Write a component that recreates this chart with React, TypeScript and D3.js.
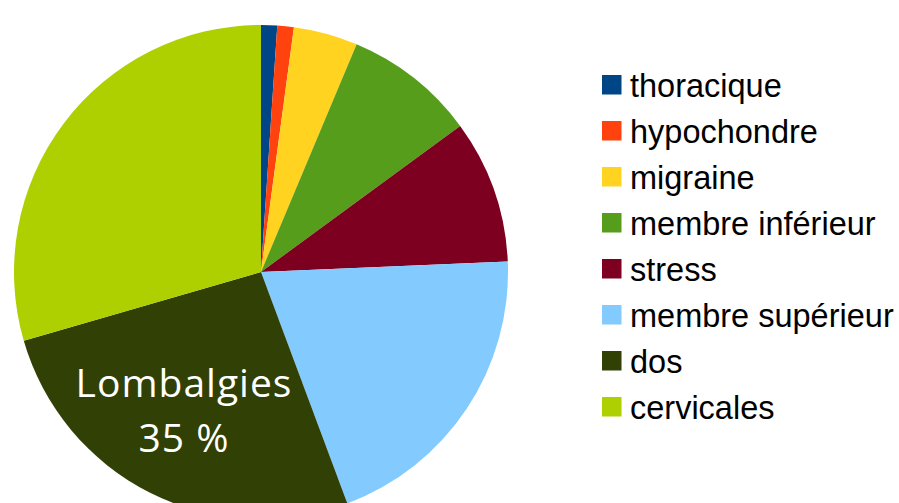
import React, { useEffect, useRef } from "react";
import * as d3 from "d3";

// categories and shares (in %)
const categories = [
  "thoracique",
  "hypochondre",
  "migraine",
  "membre inférieur",
  "stress",
  "membre supérieur",
  "dos",
  "cervicales",
];
const values = [1.05, 1.08, 4.2, 8.6, 9.4, 20.0, 26.2, 29.5];
const colors = [
  "#004586",
  "#ff420e",
  "#ffd320",
  "#579d1c",
  "#7e0021",
  "#83caff",
  "#314004",
  "#aecf00",
];
const labelLines = ["Lombalgies", "35 %"];

const W = 899;
const H = 503;

export default function App() {
  const ref = useRef<SVGSVGElement>(null);

  useEffect(() => {
    const svg = d3.select(ref.current);
    svg.selectAll("*").remove();

    const cx = 261, cy = 272, r = 247;

    const data = categories.map((c, i) => ({ name: c, value: values[i], color: colors[i] }));
    const pie = d3.pie<any>().sort(null).value((d) => d.value);
    const arc = d3.arc<any>().innerRadius(0).outerRadius(r);

    const g = svg.append("g").attr("transform", `translate(${cx},${cy})`);
    g.selectAll("path")
      .data(pie(data))
      .join("path")
      .attr("d", arc)
      .attr("fill", (d: any) => d.data.color);

    // label inside the "dos" slice
    const label = svg.append("text")
      .attr("text-anchor", "middle")
      .attr("font-family", "'Open Sans', sans-serif")
      .attr("font-size", 39)
      .attr("letter-spacing", 1)
      .attr("fill", "#ffffff");
    labelLines.forEach((t, i) => {
      label.append("tspan")
        .attr("x", 184)
        .attr("y", 397 + i * 55)
        .text(t);
    });

    // legend
    const leg = svg.append("g").attr("transform", "translate(602,75)");
    const rows = leg.selectAll("g")
      .data(data)
      .join("g")
      .attr("transform", (d, i) => `translate(0,${i * 46})`);
    rows.append("rect")
      .attr("width", 19.5)
      .attr("height", 19.5)
      .attr("fill", (d) => d.color);
    rows.append("text")
      .attr("x", 28)
      .attr("y", 22)
      .attr("font-family", "'Liberation Sans', Arial, sans-serif")
      .attr("font-size", 32.5)
      .attr("fill", "#000")
      .text((d) => d.name);
  }, []);

  return (
    <svg
      ref={ref}
      width={W}
      height={H}
      style={{ position: "absolute", left: 0, top: 0, background: "#fff" }}
    />
  );
}
